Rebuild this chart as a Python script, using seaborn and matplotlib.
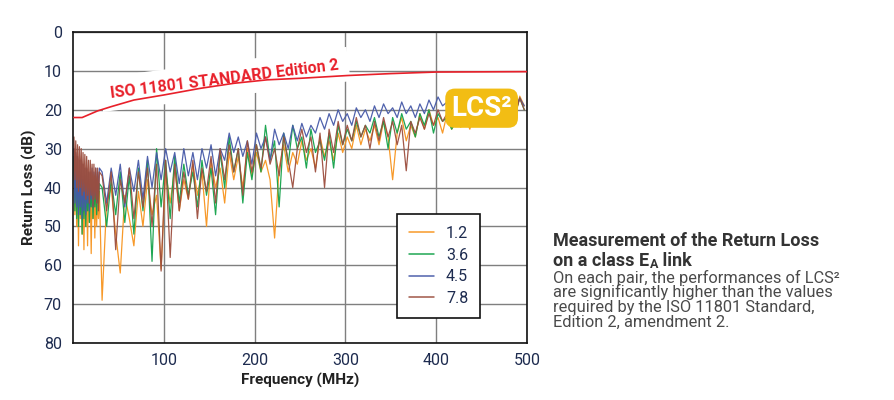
import matplotlib
matplotlib.use("Agg")
import matplotlib.pyplot as plt
import numpy as np
import pandas as pd
import seaborn as sns

# frequency grid (MHz): dense below 30 MHz, then every 5 MHz
freq = list(range(1, 30)) + list(range(32, 498, 5))

# return loss per pair (dB)
rl_12 = [33, 47, 35, 50, 36, 55, 37, 48, 38, 52, 39, 56, 38, 50, 40, 55, 39, 49, 41, 57,
         40, 48, 41, 53, 40, 50, 42, 48, 41,
         69, 44, 40, 52, 62, 42, 48, 55, 41, 50,
         38, 47, 42, 61, 36, 44, 35, 46, 38, 43,
         34, 42, 36, 50, 33, 40, 35, 44, 31, 38,
         32, 40, 30, 37, 31, 36, 33, 38, 53, 35,
         29, 36, 31, 34, 28, 33, 30, 35, 27, 32,
         28, 33, 26, 31, 27, 30, 24, 29, 25, 28,
         24, 29, 23, 27, 38, 26, 22, 28, 24, 27,
         21, 25, 20, 24, 22, 26, 21, 25, 23, 24.5,
         22, 25, 21, 24, 22, 23, 21, 24, 22, 23,
         20, 22, 16.5, 19]
rl_36 = [32, 46, 33, 48, 35, 50, 36, 47, 37, 52, 38, 48, 37, 50, 39, 46, 38, 49, 40, 45,
         39, 48, 40, 45, 38, 47, 40, 44, 39,
         40, 50, 38, 47, 36, 49, 37, 52, 35, 46,
         33, 59, 30, 45, 33, 48, 32, 44, 34, 42,
         36, 45, 33, 42, 35, 47, 31, 40, 27, 36,
         30, 44, 31, 38, 29, 36, 24, 33, 28, 45,
         26, 34, 24, 30, 27, 35, 25, 31, 28, 33,
         26, 35, 24, 29, 25, 28, 23, 27, 24, 26,
         22, 27, 23, 30, 22, 26, 21, 25, 23, 27,
         21, 24, 20, 26, 21, 23, 22, 25, 23, 24,
         21, 23, 20, 22, 21, 23, 20, 22, 21, 22,
         19, 21, 17, 20]
rl_45 = [30, 44, 31, 45, 32, 47, 33, 45, 33, 48, 34, 46, 35, 47, 35, 44, 36, 46, 36, 43,
         35, 45, 36, 42, 35, 44, 36, 41, 35,
         36, 44, 35, 42, 34, 45, 35, 41, 33, 43,
         32, 40, 31, 38, 30, 36, 31, 39, 30, 37,
         31, 38, 30, 35, 29, 37, 30, 33, 26, 31,
         27, 32, 28, 34, 26, 30, 27, 33, 25, 29,
         26, 30, 24, 28, 23.5, 27, 24, 26, 22, 25,
         21, 24, 20, 23, 21, 24, 19.5, 22, 20, 23,
         19, 22, 18.5, 21, 19.5, 22, 18, 21, 19, 22,
         18.5, 21, 17.5, 20, 16.7, 19, 18, 21, 19, 20,
         18, 20, 17, 19, 18, 20, 17.5, 19, 18, 19.5,
         18, 20, 17, 19]
rl_78 = [27, 38, 28, 40, 29, 41, 29.5, 40, 30, 42, 31, 41, 31.5, 43, 32, 42, 33, 44, 33, 42,
         34, 45, 34, 43, 35, 44, 35, 46, 36,
         37, 46, 36, 56, 38, 44, 35, 48, 36, 45,
         35, 50, 34, 61.5, 33, 58, 34, 46, 36, 43,
         33, 48, 35, 41, 32, 44, 30, 38, 29, 36,
         30, 42, 28, 36, 29, 35, 27, 34, 30, 37,
         27, 33, 40, 30, 25, 31, 27, 36, 26, 40,
         25, 31, 23, 29, 24, 28, 22, 27, 24, 30,
         23, 28, 22, 27, 23, 29, 24, 35.7, 23, 26,
         22, 25, 21, 24, 20, 23, 21, 24, 22, 23,
         21, 23, 20, 22, 21, 22, 20, 21, 21, 22,
         18, 21, 17, 20]
pairs = ["1.2", "3.6", "4.5", "7.8"]

# ISO 11801 Ed.2 limit
iso_freq = [1, 10, 12, 27, 42, 67, 100, 140, 177, 214, 251, 302, 350, 400, 500]
iso_limit = [22, 22, 21.8, 20.3, 19.2, 17.5, 16.2, 14.5, 13.2, 12.3, 11.9, 11.2, 10.7, 10.3, 10.2]

colors = ["#F7941E", "#13A24A", "#4659A8", "#9C4E3E"]
navy = "#1d2b4f"

df = pd.concat([pd.DataFrame({"freq": freq, "rl": v, "pair": p})
                for p, v in zip(pairs, [rl_12, rl_36, rl_45, rl_78])])
iso = pd.DataFrame({"freq": iso_freq, "rl": iso_limit})

sns.set_theme(style="white")
plt.rcParams["font.family"] = ["Roboto", "DejaVu Sans"]

fig = plt.figure(figsize=(8.94, 4.0), dpi=100)
ax = fig.add_axes([0.0817, 0.1425, 0.5078, 0.7775])

sns.lineplot(data=df, x="freq", y="rl", hue="pair", palette=colors, estimator=None,
             lw=0.9, alpha=0.95, ax=ax)
sns.lineplot(data=iso, x="freq", y="rl", color="#E8202A", lw=1.2, legend=False,
             ax=ax, zorder=4)

ax.set_xlim(0, 500)
ax.set_ylim(80, 0)
ax.set_xticks([100, 200, 300, 400, 500])
ax.set_yticks(range(0, 81, 10))
ax.grid(True, color="#7f7f7f", lw=1.0)
ax.set_axisbelow(True)
for s in ax.spines.values():
    s.set_color("#111111")
    s.set_linewidth(1.2)
ax.tick_params(axis="both", length=0, labelsize=11.5, colors=navy)
ax.tick_params(axis="y", pad=8)
ax.tick_params(axis="x", pad=7)

ax.set_xlabel("Frequency (MHz)", fontsize=11, fontweight="bold", color="#222222")
ax.set_ylabel("Return Loss (dB)", fontsize=11, fontweight="bold", color="#222222")
ax.xaxis.set_label_coords(0.5, -0.095)
ax.yaxis.set_label_coords(-0.08, 0.5)

sns.move_legend(ax, "upper left", bbox_to_anchor=(0.714, 0.415), title=None,
                frameon=True, fancybox=False, edgecolor="#111111", framealpha=1,
                fontsize=11.5, labelspacing=0.42, handlelength=1.55, handletextpad=0.75,
                borderpad=0.75, borderaxespad=0)
leg = ax.get_legend()
leg.get_frame().set_linewidth(1.2)
for t in leg.get_texts():
    t.set_color(navy)
for h in leg.legend_handles:
    h.set_linewidth(1.1)

ax.text(42, 17.0, "ISO 11801 STANDARD Edition 2", color="#E8202A", fontsize=11.5,
        fontweight="bold", rotation=7.1, rotation_mode="anchor", ha="left",
        va="baseline", zorder=3,
        bbox=dict(fc="white", ec="none", pad=7))

ax.text(450, 19.6, "LCS²", color="white", fontsize=20, fontweight="bold",
        ha="center", va="center", zorder=6,
        bbox=dict(boxstyle="round,pad=0.22,rounding_size=0.35", fc="#F2BD14", ec="none"))

# caption on the right, one line at a time (baselines in pixels from top)
x0 = 553 / 894
title_kw = dict(fontsize=13, fontweight="bold", color="#333333", va="baseline", ha="left")
fig.text(x0, 1 - 246.5 / 400, "Measurement of the Return Loss", **title_kw)

renderer = fig.canvas.get_renderer()
y2 = 1 - 265.5 / 400
part1 = fig.text(x0, y2, "on a class E", **title_kw)
x1 = part1.get_window_extent(renderer).x1 / fig.bbox.width
sub = fig.text(x1 + 0.0005, y2 - 2.0 / 400, "A", fontsize=9, fontweight="bold",
               color="#333333", va="baseline", ha="left")
x2 = sub.get_window_extent(renderer).x1 / fig.bbox.width
fig.text(x2, y2, " link", **title_kw)

body_lines = ["On each pair, the performances of LCS²",
              "are significantly higher than the values",
              "required by the ISO 11801 Standard,",
              "Edition 2, amendment 2."]
body_base = [282.5, 297.2, 311.9, 326.6]
for txt, yb in zip(body_lines, body_base):
    fig.text(x0, 1 - yb / 400, txt, fontsize=11.8, color="#4a4a4a",
             va="baseline", ha="left")

fig.savefig("out.png", dpi=100)
